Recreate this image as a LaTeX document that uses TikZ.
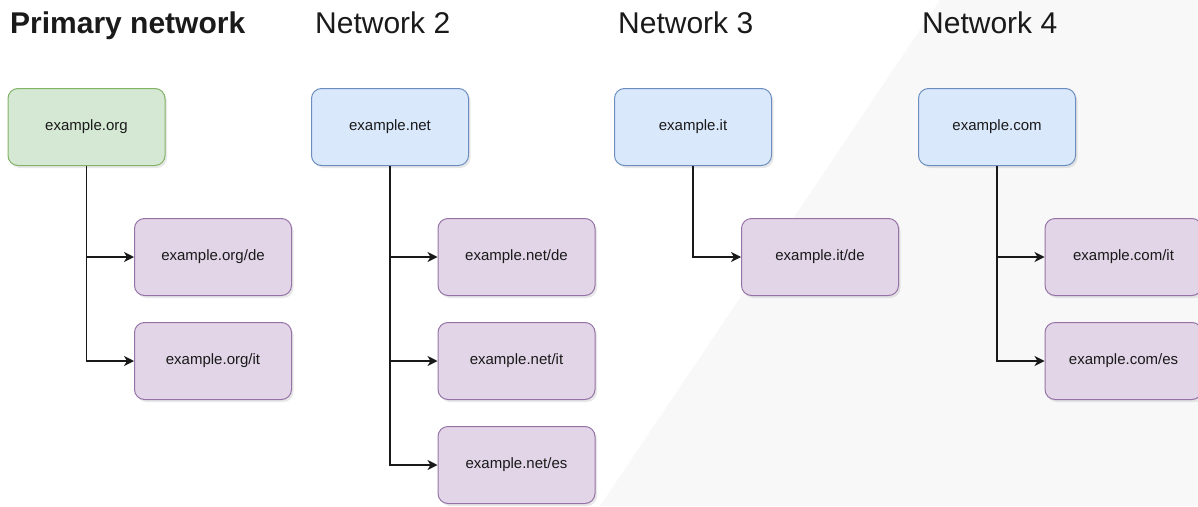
\documentclass[tikz,border=0pt]{standalone}
\usepackage{fontspec}
\setmainfont{Liberation Sans}
\usepackage{xcolor}
\usetikzlibrary{arrows.meta,shadows}

\definecolor{greenfill}{HTML}{D5E8D4}
\definecolor{greenline}{HTML}{82B366}
\definecolor{bluefill}{HTML}{DAE8FC}
\definecolor{blueline}{HTML}{6C8EBF}
\definecolor{purplefill}{HTML}{E1D5E7}
\definecolor{purpleline}{HTML}{9673A6}
\definecolor{bgshade}{RGB}{248,248,249}
\definecolor{inkcol}{HTML}{1A1A1A}

\begin{document}
\begin{tikzpicture}[x=1pt,y=-1pt]
\tikzstyle{site}=[draw, line width=1pt, rounded corners=10pt, minimum width=157pt, minimum height=77pt,
  inner sep=0pt, text=inkcol, font=\fontsize{15}{18}\selectfont,
  drop shadow={opacity=0.18, shadow xshift=2pt, shadow yshift=-2.5pt}]
\tikzstyle{home}=[site, fill=greenfill, draw=greenline]
\tikzstyle{root}=[site, fill=bluefill, draw=blueline]
\tikzstyle{sub}=[site, fill=purplefill, draw=purpleline]
\tikzstyle{head}=[anchor=base west, inner sep=0pt, text=inkcol, font=\fontsize{30}{36}\selectfont]
\tikzstyle{link}=[line width=1.3pt, black!90, -{Stealth[length=10pt,width=10pt,inset=3pt]}]
\useasboundingbox (0,0) rectangle (1198,506);
\fill [bgshade] (940,0) -- (1198,0) -- (1198,506) -- (600,506) -- cycle;
% headings
\node [head, font=\fontsize{30}{36}\selectfont\bfseries] (hprim) at (10,33) {Primary network};
\node [head] (hnet2) at (315,33) {Network 2};
\node [head] (hnet3) at (618,33) {Network 3};
\node [head] (hnet4) at (922,33) {Network 4};
% primary network
\node [home] (org) at (86.5,127) {example.org};
\node [sub] (orgde) at (213,257) {example.org/de};
\node [sub] (orgit) at (213,361) {example.org/it};
\draw [link] (org.south) |- (orgde.west);
\draw [link] (org.south) |- (orgit.west);
% network 2
\node [root] (net) at (390,127) {example.net};
\node [sub] (netde) at (516.5,257) {example.net/de};
\node [sub] (netit) at (516.5,361) {example.net/it};
\node [sub] (netes) at (516.5,465) {example.net/es};
\draw [link] (net.south) |- (netde.west);
\draw [link] (net.south) |- (netit.west);
\draw [link] (net.south) |- (netes.west);
% network 3
\node [root] (it) at (693,127) {example.it};
\node [sub] (itde) at (820,257) {example.it/de};
\draw [link] (it.south) |- (itde.west);
% network 4
\node [root] (com) at (997,127) {example.com};
\node [sub] (comit) at (1123.5,257) {example.com/it};
\node [sub] (comes) at (1123.5,361) {example.com/es};
\draw [link] (com.south) |- (comit.west);
\draw [link] (com.south) |- (comes.west);
\end{tikzpicture}
\end{document}
